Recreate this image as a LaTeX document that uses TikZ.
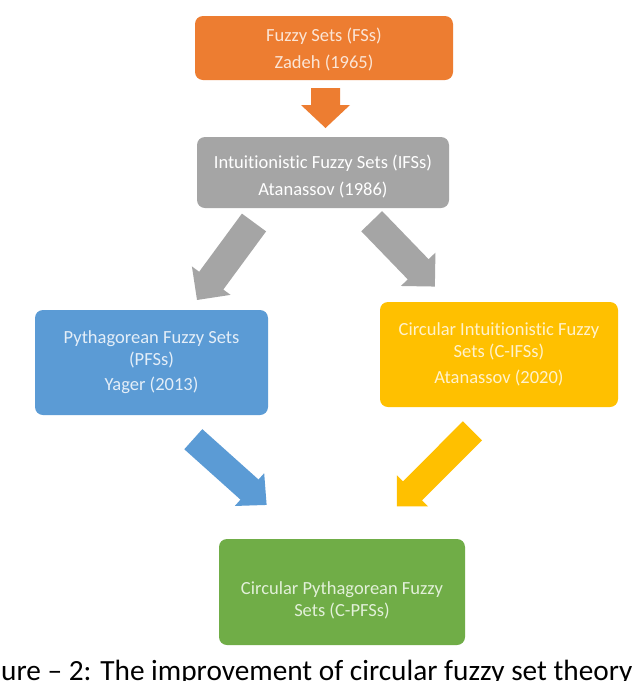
\documentclass[tikz,border=0pt]{standalone}
\usepackage{fontspec}
\setmainfont[Ligatures=NoCommon]{Carlito}
\usetikzlibrary{calc}
\definecolor{orangeC}{HTML}{ED7D31}
\definecolor{orangeT}{HTML}{FBE5D6}
\definecolor{grayC}{HTML}{A5A5A5}
\definecolor{grayT}{HTML}{FFFFFF}
\definecolor{blueC}{HTML}{5B9BD5}
\definecolor{blueT}{HTML}{E4EEF8}
\definecolor{yellowC}{HTML}{FFC000}
\definecolor{yellowT}{HTML}{FFF2CC}
\definecolor{greenC}{HTML}{70AD47}
\definecolor{greenT}{HTML}{E2F0D9}
\newcommand\blockarrow[6]{%
  \path[fill=#6] let \p1=($(#2)-(#1)$), \n1={atan2(\y1,\x1)}, \n2={veclen(\x1,\y1)} in
    [shift={(#1)}, rotate=\n1]
    (0pt,#3) -- ({\n2-#5},#3) -- ({\n2-#5},#4) -- ({\n2},0pt) -- ({\n2-#5},-#4) -- ({\n2-#5},-#3) -- (0pt,-#3) -- cycle;}
\begin{document}
\begin{tikzpicture}[x=1pt,y=-1pt,
  setbox/.style={rounded corners=8pt, align=center, inner sep=0pt,
    font=\fontsize{18.5}{22}\selectfont},
  txt/.style={align=center, inner sep=0pt, font=\fontsize{18.5}{22}\selectfont}]
\useasboundingbox (0,0) rectangle (640,681);
\fill[white] (0,0) rectangle (640,681);

\node[setbox, fill=orangeC, minimum width=258pt, minimum height=64pt] (fs) at (324,48) {};
\node[txt, text=orangeT] (fstxt) at ([yshift=-2pt]fs.center) {Fuzzy Sets (FSs)\\[5pt]Zadeh (1965)};
\node[setbox, fill=grayC, minimum width=252pt, minimum height=71pt] (ifs) at (323,172.5) {};
\node[txt, text=grayT] (ifstxt) at ([yshift=-4pt]ifs.center) {Intuitionistic Fuzzy Sets (IFSs)\\[5pt]Atanassov (1986)};
\node[setbox, fill=blueC, text=blueT, minimum width=233pt, minimum height=105pt] (pfs) at (151.5,362.5)
  {Pythagorean Fuzzy Sets\\(PFSs)\\[3pt]Yager (2013)};
\node[setbox, fill=yellowC, text=yellowT, minimum width=238pt, minimum height=105pt] (cifs) at (499,354.5)
  {Circular Intuitionistic Fuzzy\\Sets (C-IFSs)\\[4pt]Atanassov (2020)};
\node[setbox, fill=greenC, minimum width=246pt, minimum height=106pt] (cpfs) at (342,592) {};
\node[txt, text=greenT] (cpfstxt) at ([yshift=-8pt]cpfs.center) {Circular Pythagorean Fuzzy\\Sets (C-PFSs)};

\coordinate (a1s) at (325.5,88);   \coordinate (a1t) at (325.5,128);
\coordinate (a2s) at (254,222.5);  \coordinate (a2t) at (197,300);
\coordinate (a3s) at (371.7,221.2);\coordinate (a3t) at (435,286.7);
\coordinate (a4s) at (193.3,439.2);\coordinate (a4t) at (266.7,505);
\coordinate (a5s) at (472.5,430.8);\coordinate (a5t) at (396.7,506.7);

\blockarrow{a1s}{a1t}{14.5pt}{24.5pt}{23pt}{orangeC}
\blockarrow{a2s}{a2t}{15pt}{24pt}{24pt}{grayC}
\blockarrow{a3s}{a3t}{14.5pt}{24pt}{24pt}{grayC}
\blockarrow{a4s}{a4t}{13.5pt}{22pt}{23pt}{blueC}
\blockarrow{a5s}{a5t}{13.5pt}{22pt}{22pt}{yellowC}

\node[anchor=base west, inner sep=0pt, font=\fontsize{29.3}{34}\selectfont] (cap) at (1,680)
  {ure – 2: The improvement of circular fuzzy set theory};
\end{tikzpicture}
\end{document}
